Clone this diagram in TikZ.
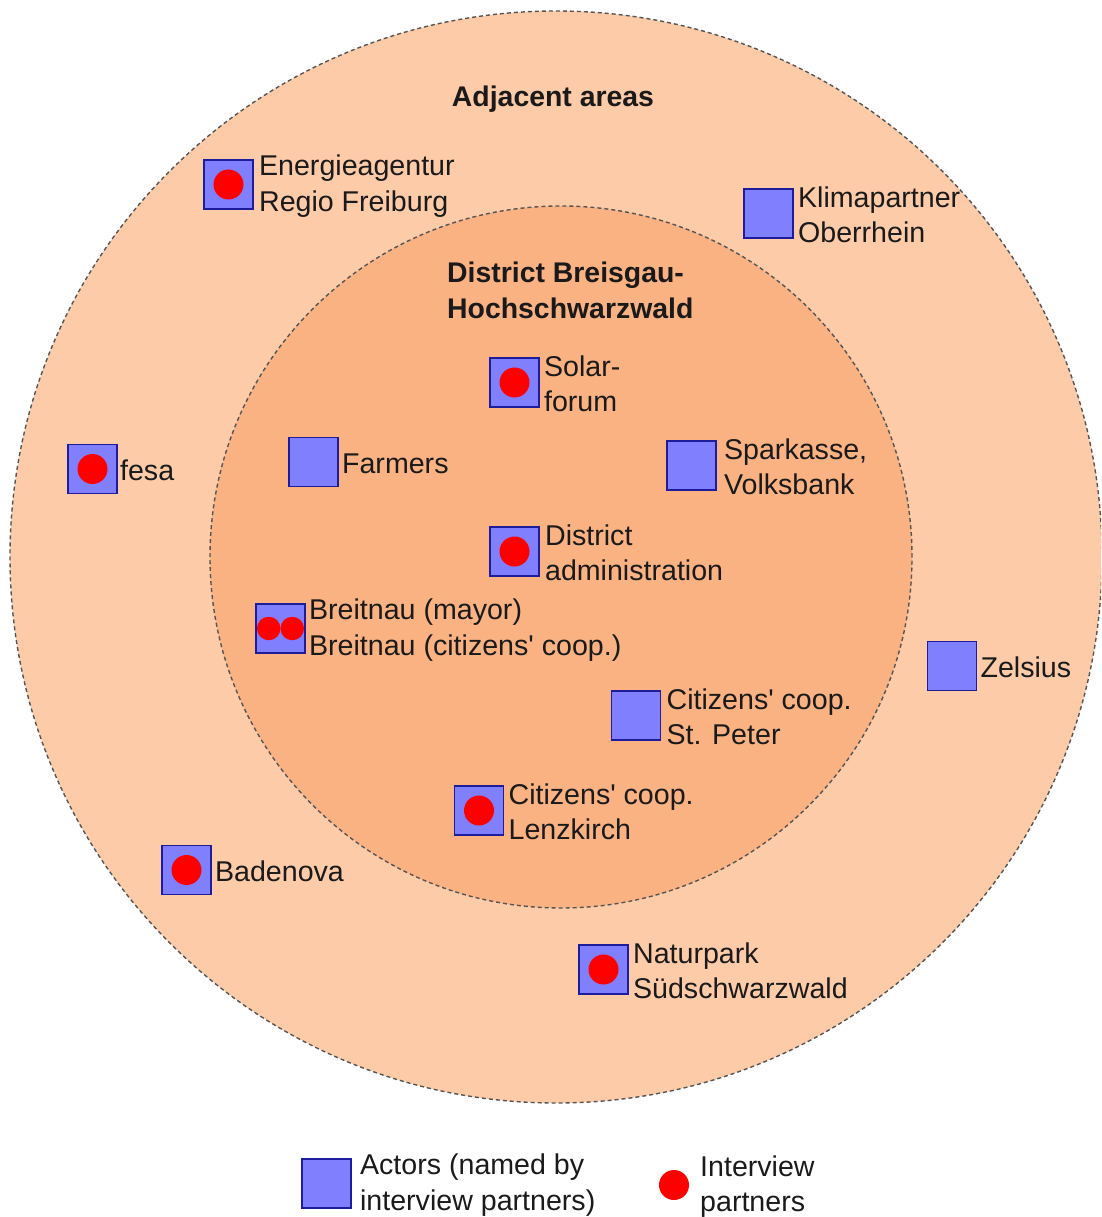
\documentclass[tikz,border=0pt]{standalone}
\usepackage{fontspec}
\setmainfont{Liberation Sans}[Ligatures=TeXOff]
\definecolor{outerfill}{HTML}{FDCBA8}
\definecolor{innerfill}{HTML}{FAB283}
\definecolor{sqfill}{HTML}{8080FF}
\definecolor{sqborder}{HTML}{1C1C9C}
\definecolor{ringgray}{HTML}{555555}
\definecolor{dotred}{HTML}{FF0000}
\definecolor{txt}{HTML}{1A1A1A}
\begin{document}
\begin{tikzpicture}[x=1pt,y=-1pt,
  actor/.style={rectangle, draw=sqborder, fill=sqfill, line width=1.8pt, minimum size=49pt, inner sep=0pt},
  dot/.style={circle, fill=dotred, inner sep=0pt, minimum size=30pt},
  smalldot/.style={circle, fill=dotred, inner sep=0pt, minimum size=23.5pt},
  lbl/.style={anchor=west, align=left, inner sep=0pt, text=txt, yshift=-1.5pt, font=\fontsize{28.6}{35.5}\selectfont},
  ttl/.style={align=left, inner sep=0pt, text=txt, font=\fontsize{28.4}{35.5}\selectfont\bfseries},
  ring/.style={draw=ringgray, dash pattern=on 4pt off 3pt, line width=1.4pt}
]
\useasboundingbox (0,0) rectangle (1101,1217);
\begin{scope}
\clip (0,0) rectangle (1101,1217);
\filldraw[fill=outerfill, ring] (556,557) circle (546pt);
\filldraw[fill=innerfill, ring] (561,557) circle (351pt);
\end{scope}

% titles
\node[ttl, anchor=base] (adj) at (553,107) {Adjacent areas};
\node[ttl, anchor=north west] (dist) at (447,262) {District Breisgau-\\Hochschwarzwald};

% actors
\node[actor] (ener) at (228.5,184.5) {};
\node[dot] (enerd) at (ener.center) {};
\node[lbl] (enert) at ([xshift=5pt]ener.east) {Energieagentur\\Regio Freiburg};

\node[actor] (klima) at (768.5,213.5) {};
\node[lbl] (klimat) at ([xshift=4pt]klima.east) {Klimapartner\\Oberrhein};

\node[actor] (solar) at (514.5,382.5) {};
\node[dot] (solard) at (solar.center) {};
\node[lbl] (solart) at ([xshift=4pt]solar.east) {Solar-\\forum};

\node[actor] (fesa) at (92.5,469) {};
\node[dot] (fesad) at (fesa.center) {};
\node[lbl] (fesat) at ([xshift=2pt]fesa.east) {fesa};

\node[actor] (farm) at (313.5,462) {};
\node[lbl] (farmt) at ([xshift=3pt]farm.east) {Farmers};

\node[actor] (spark) at (691.5,465.5) {};
\node[lbl] (sparkt) at ([xshift=7pt]spark.east) {Sparkasse,\\Volksbank};

\node[actor] (admin) at (514.5,551.5) {};
\node[dot] (admind) at (admin.center) {};
\node[lbl] (admint) at ([xshift=5pt]admin.east) {District\\administration};

\node[actor] (breit) at (280.5,628.5) {};
\node[smalldot] (breitd1) at ([xshift=-11.75pt]breit.center) {};
\node[smalldot] (breitd2) at ([xshift=11.75pt]breit.center) {};
\node[lbl] (breitt) at ([xshift=3pt]breit.east) {Breitnau (mayor)\\Breitnau (citizens' coop.)};

\node[actor] (zel) at (952,666) {};
\node[lbl] (zelt) at ([xshift=3pt]zel.east) {Zelsius};

\node[actor] (peter) at (636,715.5) {};
\node[lbl] (petert) at ([xshift=5pt]peter.east) {Citizens' coop.\\St. Peter};

\node[actor] (lenz) at (479,810.5) {};
\node[dot] (lenzd) at (lenz.center) {};
\node[lbl] (lenzt) at ([xshift=4pt]lenz.east) {Citizens' coop.\\Lenzkirch};

\node[actor] (bade) at (186.5,870) {};
\node[dot] (baded) at (bade.center) {};
\node[lbl] (badet) at ([xshift=3pt]bade.east) {Badenova};

\node[actor] (natur) at (603.5,969.5) {};
\node[dot] (naturd) at (natur.center) {};
\node[lbl] (naturt) at ([xshift=4pt]natur.east) {Naturpark\\Südschwarzwald};

% legend
\node[actor] (legsq) at (326.5,1183.5) {};
\node[lbl] (legsqt) at ([xshift=8pt]legsq.east) {Actors (named by\\interview partners)};
\node[dot] (legdot) at (674,1185) {};
\node[lbl] (legdott) at (700,1185) {Interview\\partners};
\end{tikzpicture}
\end{document}
